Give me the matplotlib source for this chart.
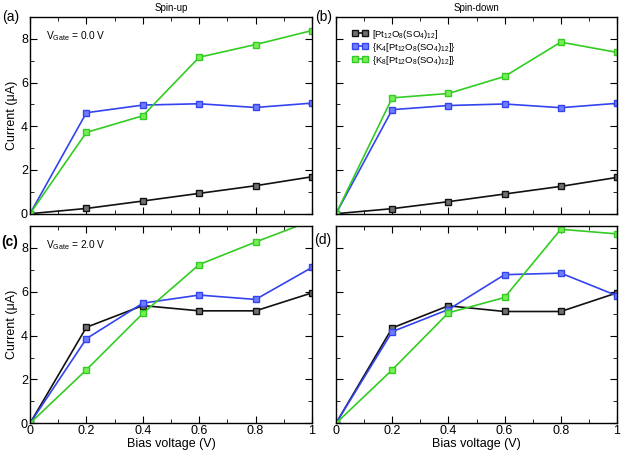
import matplotlib
matplotlib.use("Agg")
import matplotlib.pyplot as plt
from matplotlib.ticker import MultipleLocator

plt.rcParams['font.family'] = ['Liberation Sans', 'DejaVu Sans']
plt.rcParams['mathtext.fontset'] = 'custom'
plt.rcParams['mathtext.rm'] = 'Liberation Sans'
plt.rcParams['mathtext.it'] = 'Liberation Sans'

bias = [0.0, 0.2, 0.4, 0.6, 0.8, 1.0]

# (a) spin-up, Vgate = 0
a_pt = [0, 0.24, 0.58, 0.93, 1.28, 1.69]
a_k4 = [0, 4.62, 4.97, 5.03, 4.86, 5.06]
a_k8 = [0, 3.72, 4.48, 7.16, 7.74, 8.38]
# (b) spin-down, Vgate = 0
b_pt = [0, 0.23, 0.55, 0.90, 1.25, 1.66]
b_k4 = [0, 4.76, 4.95, 5.02, 4.85, 5.05]
b_k8 = [0, 5.30, 5.50, 6.28, 7.85, 7.38]
# (c) spin-up, Vgate = 2
c_pt = [0, 4.38, 5.37, 5.13, 5.13, 5.95]
c_k4 = [0, 3.86, 5.48, 5.85, 5.65, 7.11]
c_k8 = [0, 2.44, 5.01, 7.24, 8.27, 9.25]
# (d) spin-down, Vgate = 2
d_pt = [0, 4.35, 5.36, 5.10, 5.10, 5.95]
d_k4 = [0, 4.18, 5.19, 6.78, 6.85, 5.82]
d_k8 = [0, 2.44, 5.04, 5.74, 8.85, 8.64]

x_ticklabels = ['0', '0.2', '0.4', '0.6', '0.8', '1']

labels = [r'[Pt$_{12}$O$_8$(SO$_4$)$_{12}$]',
          r'{K$_4$[Pt$_{12}$O$_8$(SO$_4$)$_{12}$]}',
          r'{K$_8$[Pt$_{12}$O$_8$(SO$_4$)$_{12}$]}']
line_colors = ['#111111', '#3344ee', '#33cc22']
face_colors = ['#707070', '#6f7cff', '#77ee55']

fig = plt.figure(figsize=(6.23, 4.53), dpi=100)
W, H = 623, 453
def pos(l, r, t, b):
    return [l / W, 1 - b / H, (r - l) / W, (b - t) / H]

axa = fig.add_axes(pos(30, 312, 17, 213.7))
axb = fig.add_axes(pos(336, 617, 17, 213.7))
axc = fig.add_axes(pos(30, 312, 226, 423.3))
axd = fig.add_axes(pos(336, 617, 226, 423.3))

panels = [(axa, [a_pt, a_k4, a_k8]),
          (axb, [b_pt, b_k4, b_k8]),
          (axc, [c_pt, c_k4, c_k8]),
          (axd, [d_pt, d_k4, d_k8])]

for ax, series in panels:
    for ys, lc, fc, name in zip(series, line_colors, face_colors, labels):
        ax.plot(bias, ys, '-', color=lc, lw=1.2, marker='s', ms=5,
                mfc=fc, mec=lc, mew=1.0, label=name)
    ax.set_xlim(0, 1)
    ax.set_ylim(0, 9)
    ax.xaxis.set_minor_locator(MultipleLocator(0.1))
    ax.yaxis.set_major_locator(MultipleLocator(2))
    ax.yaxis.set_minor_locator(MultipleLocator(1))
    ax.set_xticks(bias)
    ax.set_xticklabels(x_ticklabels)
    ax.tick_params(which='both', direction='in', top=True, right=True,
                   labelsize=9, pad=1.5)
    ax.tick_params(which='major', length=5)
    ax.tick_params(which='minor', length=3)
    for s in ax.spines.values():
        s.set_linewidth(1.0)

for ax in (axa, axb):
    ax.tick_params(labelbottom=False)
for ax in (axb, axd):
    ax.tick_params(labelleft=False)

for ax in (axa, axc):
    ax.set_ylabel('Current (\u03bcA)', fontsize=9, labelpad=2)
for ax in (axc, axd):
    ax.set_xlabel('Bias voltage (V)', fontsize=9, labelpad=0.5)

axa.set_title('Spin-up', fontsize=7, pad=4)
axb.set_title('Spin-down', fontsize=7, pad=4)

fig.text(2 / W, 1 - 17 / H, '(a)', fontsize=10, va='center', ha='left')
fig.text(315 / W, 1 - 17 / H, '(b)', fontsize=10, va='center', ha='left')
fig.text(1 / W, 1 - 242 / H, '(c)', fontsize=10, va='center', ha='left', weight='bold')
fig.text(314 / W, 1 - 240 / H, '(d)', fontsize=10, va='center', ha='left')

axa.text(0.057, 0.905, r'V$_{\mathrm{Gate}}$ = 0.0 V', transform=axa.transAxes,
         fontsize=7.3, ha='left', va='center')
axc.text(0.057, 0.905, r'V$_{\mathrm{Gate}}$ = 2.0 V', transform=axc.transAxes,
         fontsize=7.3, ha='left', va='center')

axb.legend(loc='upper left', bbox_to_anchor=(0.045, 0.965), frameon=False,
           fontsize=6.8, numpoints=2, handlelength=1.6, handletextpad=0.5,
           labelspacing=0.0, borderaxespad=0.2, borderpad=0.2)

fig.savefig('out.png', dpi=100)
